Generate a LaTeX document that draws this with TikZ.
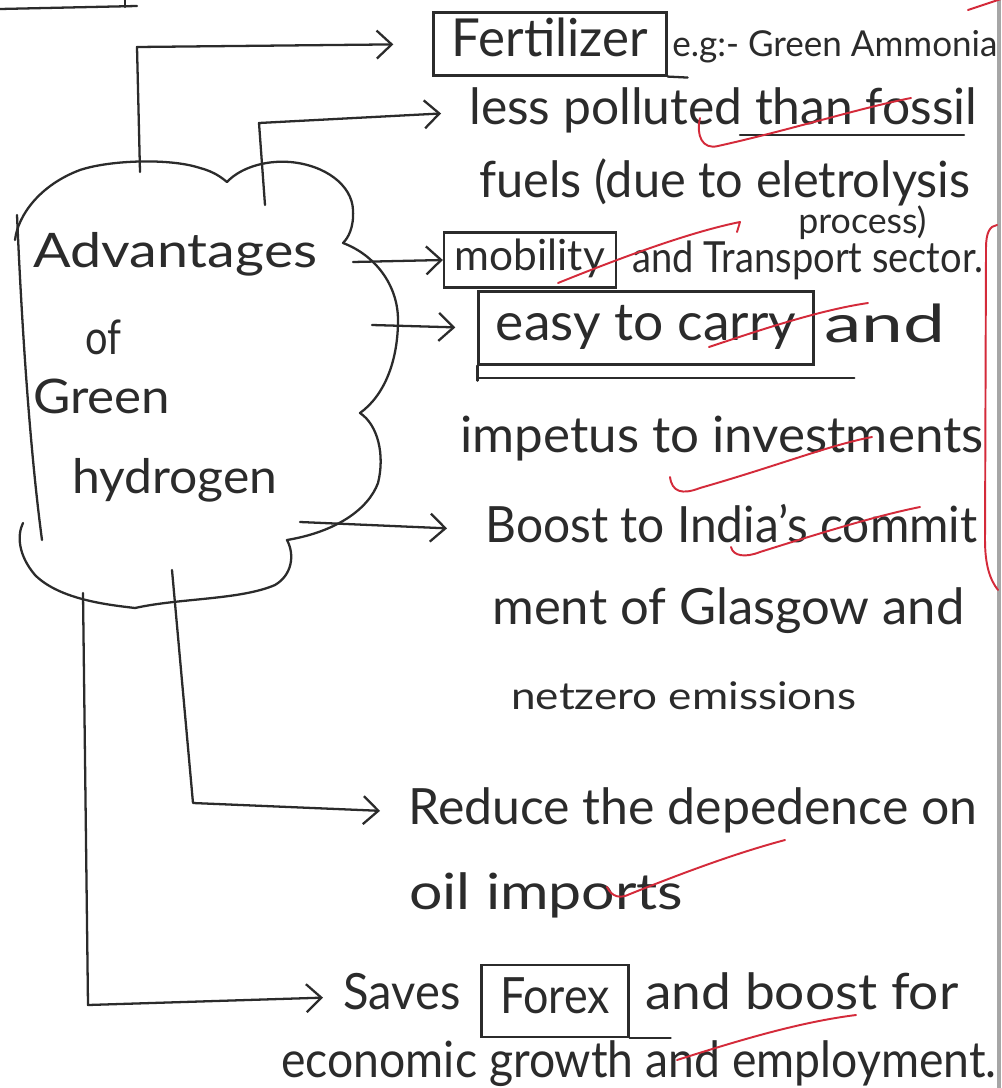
\documentclass[tikz,border=0pt]{standalone}
\usepackage{fontspec}
\setmainfont{Lato}
\usetikzlibrary{arrows.meta}
\newlength\pxu
\setlength\pxu{0.02cm}
% \fitw[height in px]{width in px}{text}
\newcommand\fitw[3][42]{\resizebox{#2\pxu}{#1\pxu}{\strut #3}}
\definecolor{inkc}{HTML}{2B2B2B}
\definecolor{redc}{HTML}{D42A3A}
\begin{document}
\begin{tikzpicture}[x=0.02cm,y=-0.02cm,
  ink/.style={draw=inkc, line width=1.3pt, line cap=round, line join=round},
  txt/.style={inner sep=0pt, anchor=west, text=inkc},
  boxn/.style={draw=inkc, line width=1.3pt, inner sep=0pt, text=inkc},
  arr/.style={ink, -{Straight Barb[length=0.3cm,width=0.56cm]}},
  redm/.style={draw=redc, line width=1.1pt, line cap=round, line join=round}]
\useasboundingbox (0,0) rectangle (1001,1088);
\fill[white] (0,0) rectangle (1001,1088);

% scan edges
\draw[gray!70, line width=4\pxu] (999,0) -- (999,1088);
\draw[ink] (0,9) -- (137,6);
\draw[ink] (125,0) -- (125,7);
\draw[redm] (968,10) -- (1001,-1);

% cloud
\draw[ink] (15,240) .. controls (18,215) and (40,185) .. (80,170)
  .. controls (110,160) and (170,158) .. (200,168)
  .. controls (215,172) and (222,178) .. (227,182)
  .. controls (240,168) and (265,160) .. (290,162)
  .. controls (325,165) and (352,185) .. (353,210)
  .. controls (354,228) and (348,238) .. (343,243)
  .. controls (375,255) and (398,285) .. (398,320)
  .. controls (398,360) and (385,395) .. (360,413)
  .. controls (378,425) and (385,455) .. (378,483)
  .. controls (368,510) and (335,532) .. (287,540)
  .. controls (295,555) and (292,575) .. (275,585)
  .. controls (240,600) and (180,598) .. (135,608)
  .. controls (110,605) and (60,600) .. (35,575)
  .. controls (18,555) and (17,535) .. (23,523);
\draw[ink] (17,215) .. controls (22,330) and (30,450) .. (42,540);

\node[txt] (adv) at (33,256) {\fitw[40]{284}{Advantages}};
\node[txt] (of) at (85,343) {\fitw[40]{36}{of}};
\node[txt] (green) at (33,402) {\fitw[40]{137}{Green}};
\node[txt] (hyd) at (72,482) {\fitw[40]{205}{hydrogen}};

% right side texts
\node[boxn, minimum width=233\pxu, minimum height=60\pxu] (fert) at (550,44) {\fitw[44]{196}{Fertilizer}};
\node[txt] (eg) at (672,48) {\fitw[30]{325}{e.g:- Green Ammonia}};
\node[txt] (l2a) at (469,112) {\fitw{508}{less polluted than fossil}};
\node[txt] (l2b) at (479,185) {\fitw{491}{fuels (due to eletrolysis}};
\node[txt] (l2c) at (798,225) {\fitw[30]{128}{process)}};
\node[boxn, minimum width=172\pxu, minimum height=55\pxu] (mob) at (530,260) {\fitw[36]{150}{mobility}};
\node[txt] (l3) at (632,262) {\fitw[36]{351}{and Transport sector.}};
\node[boxn, minimum width=335\pxu, minimum height=73\pxu] (easy) at (646,328) {\fitw[44]{300}{easy to carry}};
\node[txt] (l4a) at (824,330) {\fitw[44]{121}{and}};
\node[txt] (l4b) at (460,440) {\fitw{523}{impetus to investments}};
\node[txt] (l5a) at (485,530) {\fitw{492}{Boost to India's commit}};
\node[txt] (l5b) at (492,612) {\fitw{472}{ment of Glasgow and}};
\node[txt] (l5c) at (511,700) {\fitw[32]{345}{netzero emissions}};
\node[txt] (l6a) at (408,812) {\fitw{569}{Reduce the depedence on}};
\node[txt] (l6b) at (409,897) {\fitw{274}{oil imports}};
\node[txt] (saves) at (343,997) {\fitw{117}{Saves}};
\node[boxn, minimum width=147\pxu, minimum height=72\pxu] (forex) at (555,1001) {\fitw{110}{Forex}};
\node[txt] (l7a) at (645,997) {\fitw{313}{and boost for}};
\node[txt] (l7b) at (281,1065) {\fitw{715}{economic growth and employment.}};

% box extensions
\draw[ink] (fert.south east) -- ++(20,1);
\draw[ink] (easy.south west) -- ++(0,15);
\draw[ink] ([yshift=-12\pxu]easy.south west) -- ++(377,0);
\draw[ink] (forex.south east) -- ++(41,0);

% connector start points on the cloud
\coordinate (s1) at (140,172);
\coordinate (c1) at (137,47);
\coordinate (s2) at (265,205);
\coordinate (c2) at (259,123);
\coordinate (s3) at (353,262);
\coordinate (s4) at (372,325);
\coordinate (s5) at (300,522);
\coordinate (s6) at (172,570);
\coordinate (c6) at (193,803);
\coordinate (s7) at (83,593);
\coordinate (c7) at (88,1005);

\draw[arr, shorten >=39\pxu] (s1) -- (c1) -- (fert.west);
\draw[arr, shorten >=28\pxu] (s2) -- (c2) -- (l2a.west);
\draw[arr] (s3) -- (mob.west);
\draw[arr, shorten >=22\pxu] (s4) -- (easy.west);
\draw[arr, shorten >=38\pxu] (s5) -- (l5a.west);
\draw[arr, shorten >=28\pxu] (s6) -- (c6) -- (l6a.west);
\draw[arr, shorten >=20\pxu] (s7) -- (c7) -- (saves.west);

% underline
\draw[ink] (740,135) -- (964,135);

% red marks
\draw[redm] (700,118) .. controls (696,135) and (702,150) .. (718,146) .. controls (790,130) and (860,108) .. (911,98);
\draw[redm] (558,283) .. controls (620,258) and (690,232) .. (740,222) -- (737,232);
\draw[redm] (709,347) .. controls (760,330) and (820,310) .. (868,303);
\draw[redm] (670,477) .. controls (672,492) and (682,495) .. (700,488) .. controls (780,465) and (830,445) .. (872,437);
\draw[redm] (731,547) .. controls (733,556) and (745,558) .. (760,552) .. controls (830,530) and (880,515) .. (920,507);
\draw[redm] (607,887) .. controls (612,897) and (620,899) .. (630,894) .. controls (690,870) and (740,852) .. (785,840);
\draw[redm] (677,1060) .. controls (740,1040) and (800,1022) .. (856,1015);
\draw[redm] (997,225) .. controls (990,226) and (986,232) .. (986,248) -- (985,540) .. controls (985,565) and (990,580) .. (998,590);
\end{tikzpicture}
\end{document}
